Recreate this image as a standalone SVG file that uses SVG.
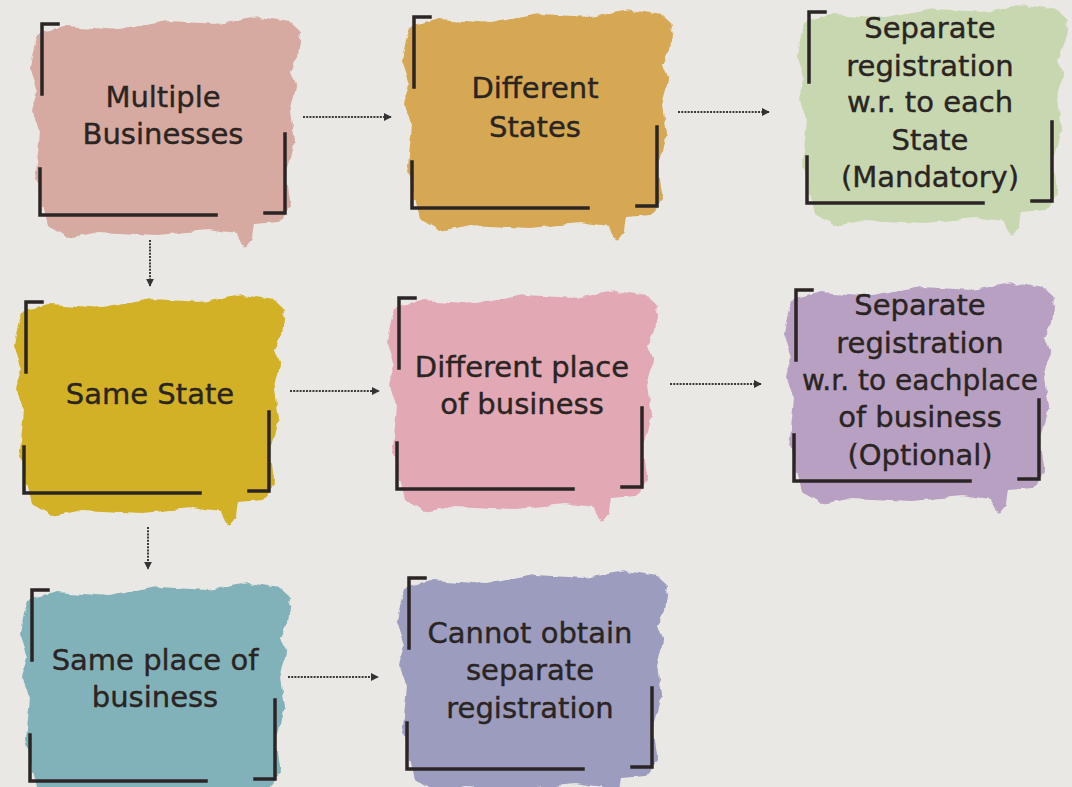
<svg xmlns="http://www.w3.org/2000/svg" xmlns:xlink="http://www.w3.org/1999/xlink" width="1072" height="787" viewBox="0 0 1072 787">
<style>
.lbl{font-family:"DejaVu Sans","Noto Sans",sans-serif;font-size:29px;fill:#2a2422;stroke:#2a2422;stroke-width:0.4;text-anchor:middle}
.br{fill:none;stroke:#2b2525;stroke-width:3.5;stroke-linecap:square}
.con{fill:none;stroke:#3a3a3a;stroke-width:2;stroke-dasharray:2 1.2}
</style>
<defs>
<filter id="rough" x="-5%" y="-5%" width="110%" height="110%">
<feTurbulence type="fractalNoise" baseFrequency="0.08" numOctaves="2" seed="3"/>
<feDisplacementMap in="SourceGraphic" scale="6" xChannelSelector="R" yChannelSelector="G"/>
</filter>
<path id="blob" d="M 10 22 L 40 14 L 90 18 L 140 9 L 190 12 L 230 5 L 262 10 L 273 20 L 270 45 L 262 60 L 268 76 L 262 100 L 266 130 L 258 160 L 263 195 L 250 210 L 226 212 L 224 226 L 216 236 L 209 222 L 180 218 L 130 223 L 70 220 L 40 226 L 20 214 L 14 190 L 8 160 L 12 120 L 4 100 L 10 80 L 2 56 L 6 36 Z"/>
<path id="brk" d="M 30 12 L 14 12 L 14 82 M 12 157 L 12 203 L 188 203 M 237 201 L 257 201 L 257 122"/>
<marker id="ah" viewBox="0 0 10 10" refX="9" refY="5" markerWidth="8" markerHeight="8" markerUnits="userSpaceOnUse" orient="auto">
<path d="M0 0 L10 5 L0 10 Z" fill="#333"/>
</marker>
</defs>
<rect width="1072" height="787" fill="#e9e8e4"/>

<g id="connectors">
<path class="con" d="M 303 117 L 391 117" marker-end="url(#ah)"/>
<path class="con" d="M 678 112 L 769 112" marker-end="url(#ah)"/>
<path class="con" d="M 150 240 L 150 286" marker-end="url(#ah)"/>
<path class="con" d="M 290 391 L 379 391" marker-end="url(#ah)"/>
<path class="con" d="M 670 384 L 761 384" marker-end="url(#ah)"/>
<path class="con" d="M 148 527 L 148 569" marker-end="url(#ah)"/>
<path class="con" d="M 288 677 L 378 677" marker-end="url(#ah)"/>
</g>

<g id="n1">
<use xlink:href="#blob" transform="translate(28,12)" fill="#d7aaa1" filter="url(#rough)"/>
<use xlink:href="#brk" transform="translate(28,12)" class="br"/>
<text class="lbl" x="163" y="107">Multiple</text>
<text class="lbl" x="163" y="144">Businesses</text>
</g>

<g id="n2">
<use xlink:href="#blob" transform="translate(400,5)" fill="#d6a853" filter="url(#rough)"/>
<use xlink:href="#brk" transform="translate(400,5)" class="br"/>
<text class="lbl" x="535" y="98">Different</text>
<text class="lbl" x="535" y="137">States</text>
</g>

<g id="n3">
<use xlink:href="#blob" transform="translate(795,0)" fill="#c7d7b0" filter="url(#rough)"/>
<use xlink:href="#brk" transform="translate(795,0)" class="br"/>
<text class="lbl" x="930" y="38">Separate</text>
<text class="lbl" x="930" y="76">registration</text>
<text class="lbl" x="930" y="112">w.r. to each</text>
<text class="lbl" x="930" y="150">State</text>
<text class="lbl" x="930" y="187">(Mandatory)</text>
</g>

<g id="n4">
<use xlink:href="#blob" transform="translate(12,290)" fill="#d3b128" filter="url(#rough)"/>
<use xlink:href="#brk" transform="translate(12,290)" class="br"/>
<text class="lbl" x="150" y="404">Same State</text>
</g>

<g id="n5">
<use xlink:href="#blob" transform="translate(385,286)" fill="#e2a9b4" filter="url(#rough)"/>
<use xlink:href="#brk" transform="translate(385,286)" class="br"/>
<text class="lbl" x="522" y="377">Different place</text>
<text class="lbl" x="522" y="414">of business</text>
</g>

<g id="n6">
<use xlink:href="#blob" transform="translate(782,278)" fill="#b8a0c3" filter="url(#rough)"/>
<use xlink:href="#brk" transform="translate(782,278)" class="br"/>
<text class="lbl" x="920" y="315">Separate</text>
<text class="lbl" x="920" y="353">registration</text>
<text class="lbl" x="920" y="390" textLength="236" lengthAdjust="spacingAndGlyphs">w.r. to eachplace</text>
<text class="lbl" x="920" y="427">of business</text>
<text class="lbl" x="920" y="465">(Optional)</text>
</g>

<g id="n7">
<use xlink:href="#blob" transform="translate(18,578)" fill="#82b2b9" filter="url(#rough)"/>
<use xlink:href="#brk" transform="translate(18,578)" class="br"/>
<text class="lbl" x="155" y="670">Same place of</text>
<text class="lbl" x="155" y="707">business</text>
</g>

<g id="n8">
<use xlink:href="#blob" transform="translate(395,566)" fill="#9c9cbf" filter="url(#rough)"/>
<use xlink:href="#brk" transform="translate(395,566)" class="br"/>
<text class="lbl" x="530" y="643">Cannot obtain</text>
<text class="lbl" x="530" y="680">separate</text>
<text class="lbl" x="530" y="718">registration</text>
</g>
</svg>
